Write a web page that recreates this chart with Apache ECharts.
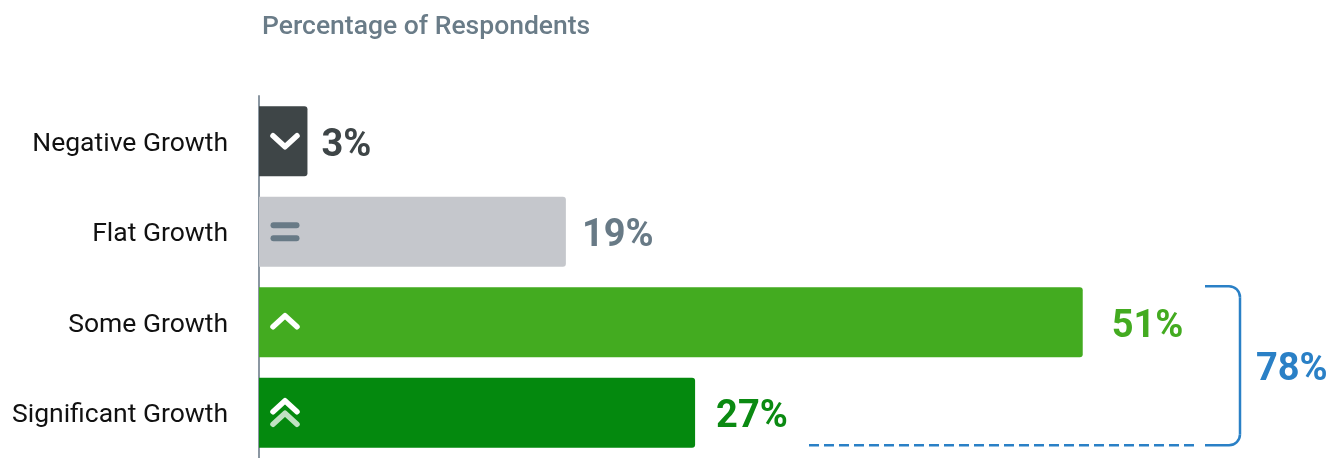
<!DOCTYPE html>
<html>
<head>
<meta charset="utf-8">
<style>
  html, body { margin: 0; padding: 0; background: #ffffff; }
  #chart { width: 1342px; height: 458px; }
</style>
<script src="https://cdn.jsdelivr.net/npm/echarts@6/dist/echarts.min.js"></script>
</head>
<body>
<div id="chart"></div>
<script>
// Survey answers, top to bottom
const categories = ['Negative Growth', 'Flat Growth', 'Some Growth', 'Significant Growth'];
// Share of respondents, in percent
const shares = [3, 19, 51, 27];
// Icon drawn inside each bar
const iconKinds = ['down', 'flat', 'up', 'double'];
// Fill of each bar and colour of its value label
const barColors = ['#3e4547', '#c5c7cc', '#43ab20', '#04890e'];
const labelColors = ['#3e4547', '#687a86', '#43ab20', '#0b8a12'];
// Space between a bar's end and its value label
const labelGaps = [14, 16, 29, 21];
// The two answers grouped by the bracket on the right
const growthGroup = ['Some Growth', 'Significant Growth'];

const FONT = 'Roboto, "Noto Sans", sans-serif';
const BLUE = '#2a80c6';

const chart = echarts.init(document.getElementById('chart'), null, { renderer: 'canvas' });

function chevron(cx, cy, dir, color) {
  const h = 5.5 * dir; // dir: 1 = pointing down, -1 = pointing up
  return {
    type: 'polyline',
    shape: { points: [[cx - 12, cy - h], [cx, cy + h], [cx + 12, cy - h]] },
    style: { stroke: color, lineWidth: 5.5, lineCap: 'round', lineJoin: 'round', fill: null }
  };
}

function renderIcon(params, api) {
  const i = api.value(1);
  const p = api.coord([0, i]);
  const cx = p[0] + 26;
  const cy = p[1];
  const kind = iconKinds[i];
  let children = [];
  if (kind === 'down') {
    children = [chevron(cx, cy, 1, '#ffffff')];
  } else if (kind === 'up') {
    children = [chevron(cx, cy - 1, -1, '#ffffff')];
  } else if (kind === 'double') {
    children = [
      chevron(cx, cy + 6, -1, 'rgba(255,255,255,0.75)'),
      chevron(cx, cy - 6.5, -1, '#ffffff')
    ];
  } else if (kind === 'flat') {
    const s = { stroke: '#687a86', lineWidth: 6, lineCap: 'round' };
    children = [
      { type: 'line', shape: { x1: cx - 11.5, y1: cy - 6.5, x2: cx + 11.5, y2: cy - 6.5 }, style: s },
      { type: 'line', shape: { x1: cx - 11.5, y1: cy + 6.5, x2: cx + 11.5, y2: cy + 6.5 }, style: s }
    ];
  }
  return { type: 'group', children: children };
}

const option = {
  animation: false,
  title: {
    text: 'Percentage of Respondents',
    left: 262,
    top: 14,
    padding: 0,
    textStyle: { fontFamily: FONT, fontSize: 26.5, fontWeight: 500, color: '#6a7c88' }
  },
  grid: { left: 259, top: 96, width: 1066, height: 364, containLabel: false },
  xAxis: {
    type: 'value',
    min: 0,
    max: 66,
    show: false
  },
  yAxis: {
    type: 'category',
    data: categories,
    inverse: true,
    axisLine: { show: true, lineStyle: { color: '#8b97a2', width: 2 } },
    axisTick: { show: false },
    splitLine: { show: false },
    axisLabel: {
      fontFamily: FONT, fontSize: 26.5, color: '#111111', margin: 31,
      verticalAlign: 'top',
      lineHeight: 30,
      padding: [-12, 0, 0, 0]
    }
  },
  series: [
    {
      type: 'bar',
      barWidth: 70,
      data: shares.map((v, i) => ({
        value: v,
        itemStyle: { color: barColors[i], borderRadius: [0, 3, 3, 0] },
        label: { color: labelColors[i], distance: labelGaps[i] }
      })),
      label: {
        show: true,
        position: 'right',
        offset: [0, 5],
        fontFamily: FONT,
        fontSize: 38,
        fontWeight: 'bold',
        formatter: p => p.value + '%'
      },
      z: 2
    },
    {
      type: 'custom',
      renderItem: renderIcon,
      data: categories.map((c, i) => [0, i]),
      encode: { x: 0, y: 1 },
      silent: true,
      z: 5
    }
  ]
};

chart.setOption(option);

// Bracket spanning the two growth answers, with their combined share
function drawBracket() {
  const iA = categories.indexOf(growthGroup[0]);
  const iB = categories.indexOf(growthGroup[1]);
  const yTop = chart.convertToPixel({ yAxisIndex: 0 }, iA) - 36;
  const yBot = chart.convertToPixel({ yAxisIndex: 0 }, iB) + 32.5;
  const xV = 1240;
  const r = 11;
  const total = shares[iA] + shares[iB];
  const solid = { stroke: BLUE, lineWidth: 2.5, fill: null };
  chart.setOption({
    graphic: [
      { type: 'line', shape: { x1: 1205, y1: yTop, x2: xV - r, y2: yTop }, style: solid, silent: true },
      { type: 'arc', shape: { cx: xV - r, cy: yTop + r, r: r, startAngle: -Math.PI / 2, endAngle: 0, clockwise: true }, style: solid, silent: true },
      { type: 'line', shape: { x1: xV, y1: yTop + r, x2: xV, y2: yBot - r }, style: solid, silent: true },
      { type: 'arc', shape: { cx: xV - r, cy: yBot - r, r: r, startAngle: 0, endAngle: Math.PI / 2, clockwise: true }, style: solid, silent: true },
      { type: 'line', shape: { x1: xV - r, y1: yBot, x2: 1205, y2: yBot }, style: solid, silent: true },
      {
        type: 'line',
        shape: { x1: 809, y1: yBot, x2: 1199, y2: yBot },
        style: { stroke: BLUE, lineWidth: 2.5, lineDash: [10, 5] },
        silent: true
      },
      {
        type: 'text',
        x: 1256,
        y: (yTop + yBot) / 2 + 5,
        style: {
          text: total + '%',
          fill: BLUE,
          font: 'bold 38px ' + FONT,
          verticalAlign: 'middle'
        },
        silent: true
      }
    ]
  });
}
drawBracket();
</script>
</body>
</html>
